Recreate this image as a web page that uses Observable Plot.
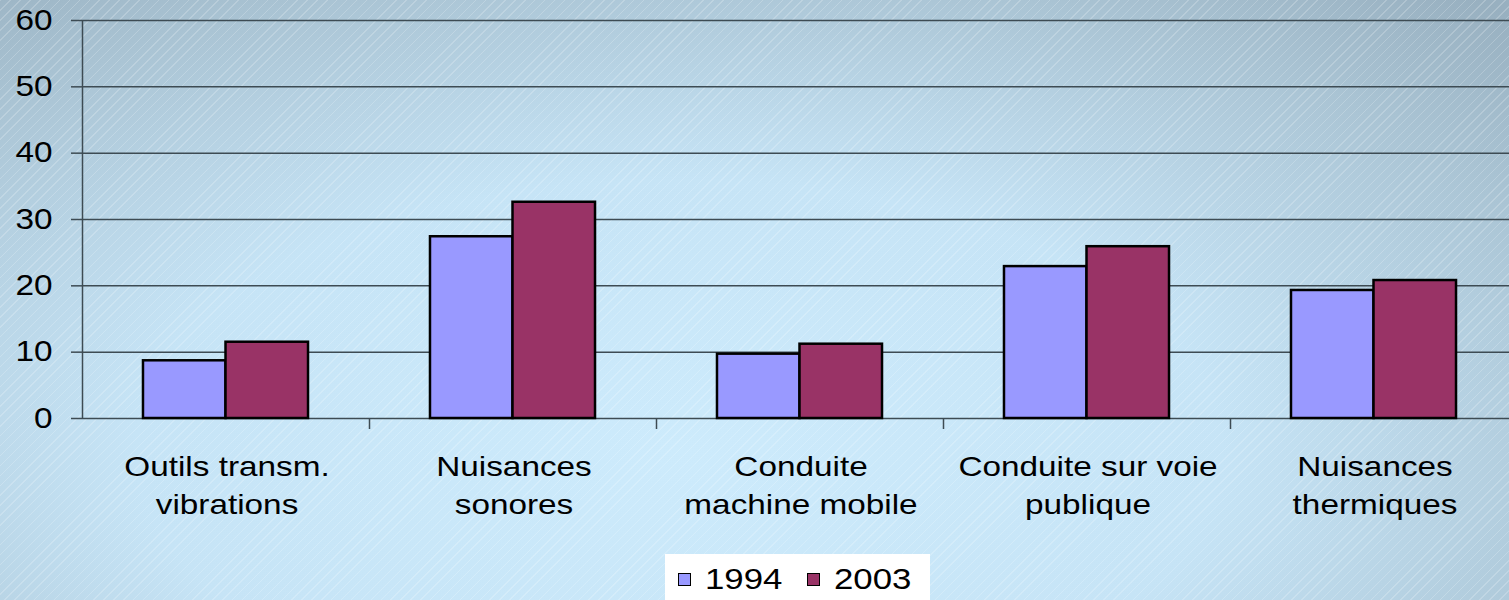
<!DOCTYPE html>
<html>
<head>
<meta charset="utf-8">
<script src="https://cdn.jsdelivr.net/npm/d3@7"></script>
<script src="https://cdn.jsdelivr.net/npm/@observablehq/plot@0.6"></script>
<style>
  html, body { margin: 0; padding: 0; }
  body {
    width: 1509px; height: 600px; overflow: hidden; position: relative;
    font-family: "Liberation Sans", Arial, sans-serif;
    background:
      repeating-linear-gradient(135deg, rgba(255,255,255,0.2) 0px, rgba(255,255,255,0.2) 1px, rgba(255,255,255,0) 1px, rgba(255,255,255,0) 7px),
      radial-gradient(ellipse 80% 100% at 45% 75%, #cdebfc 0%, #c6e4f6 45%, #aac4d4 80%, #98b0c0 100%);
  }
  #chart { position: absolute; left: 0; top: 0; width: 1517px; }
  #chart svg { background: transparent !important; overflow: visible; max-width: none !important; }
  #legend {
    position: absolute; left: 665px; top: 554px; width: 265px; height: 60px;
    background: #ffffff; font-size: 29px; color: #000;
  }
  .item { position: absolute; top: 9px; display: flex; align-items: center; }
  .sw { width: 11px; height: 11px; border: 1.5px solid #000; margin-right: 14px; }
  .lbl { display: inline-block; transform: scaleX(1.2); transform-origin: left center; }
</style>
</head>
<body>
<div id="chart"></div>
<div id="legend"></div>
<script>
const categories = ["Outils transm.\nvibrations", "Nuisances\nsonores", "Conduite\nmachine mobile", "Conduite sur voie\npublique", "Nuisances\nthermiques"];
const years = ["1994", "2003"];
const values1994 = [8.7, 27.4, 9.7, 22.9, 19.3];
const values2003 = [11.5, 32.6, 11.2, 25.9, 20.8];
const colors = ["#9999ff", "#993366"];
const yTicks = [0, 10, 20, 30, 40, 50, 60];

const rows = [];
categories.forEach((c, i) => {
  rows.push({cat: c, i, year: years[0], value: values1994[i], x1: i + 0.2125, x2: i + 0.5});
  rows.push({cat: c, i, year: years[1], value: values2003[i], x1: i + 0.5, x2: i + 0.7875});
});
const boundaries = d3.range(1, categories.length);

const chart = Plot.plot({
  width: 1517,
  height: 552,
  marginLeft: 82,
  marginRight: 0,
  marginTop: 20,
  marginBottom: 134,
  style: {fontFamily: '"Liberation Sans", Arial, sans-serif', color: "#000", background: "transparent"},
  x: {domain: [0, categories.length], axis: null},
  y: {domain: [0, 60], axis: null},
  color: {domain: years, range: colors},
  marks: [
    Plot.gridY(yTicks, {stroke: "#3d4b53", strokeOpacity: 1, strokeWidth: 1.5}),
    Plot.axisY(yTicks, {label: null, tickSize: 11, tickPadding: 19, fontSize: 29, stroke: "#3d4b53", strokeWidth: 1.5, tickFormat: d => String(d), fill: "#000"}),
    Plot.ruleX([0], {stroke: "#3d4b53", strokeWidth: 1.5}),
    Plot.ruleX(boundaries, {y1: 0, y2: 0, insetBottom: -11, stroke: "#3d4b53", strokeWidth: 1.5}),
    Plot.rectY(rows, {x1: "x1", x2: "x2", y1: 0, y2: "value", fill: "year", stroke: "#000", strokeWidth: 2.5}),
    Plot.text(categories, {x: (d, i) => i + 0.5, y: 0, text: d => d, lineAnchor: "top", dy: 31, dx: 1, fontSize: 28, lineHeight: 1.357, fill: "#000"})
  ]
});
document.getElementById("chart").appendChild(chart);

// widen glyphs horizontally (the reference text is horizontally stretched)
function stretch(selector, s, anchor) {
  chart.querySelectorAll(selector).forEach(el => {
    const b = el.getBBox();
    const ax = anchor === "end" ? b.x + b.width : b.x + b.width / 2;
    const t = el.getAttribute("transform") || "";
    el.setAttribute("transform", `${t} translate(${ax},0) scale(${s},1) translate(${-ax},0)`);
  });
}
stretch('g[aria-label="text"] > text', 1.19, "middle");
stretch('g[aria-label="y-axis tick label"] > text', 1.15, "end");

const legend = document.getElementById("legend");
const legendLeft = [13, 142];
years.forEach((y, k) => {
  const it = document.createElement("div");
  it.className = "item";
  it.style.left = legendLeft[k] + "px";
  it.innerHTML = `<div class="sw" style="background:${colors[k]}"></div><span class="lbl">${y}</span>`;
  legend.appendChild(it);
});
</script>
</body>
</html>
